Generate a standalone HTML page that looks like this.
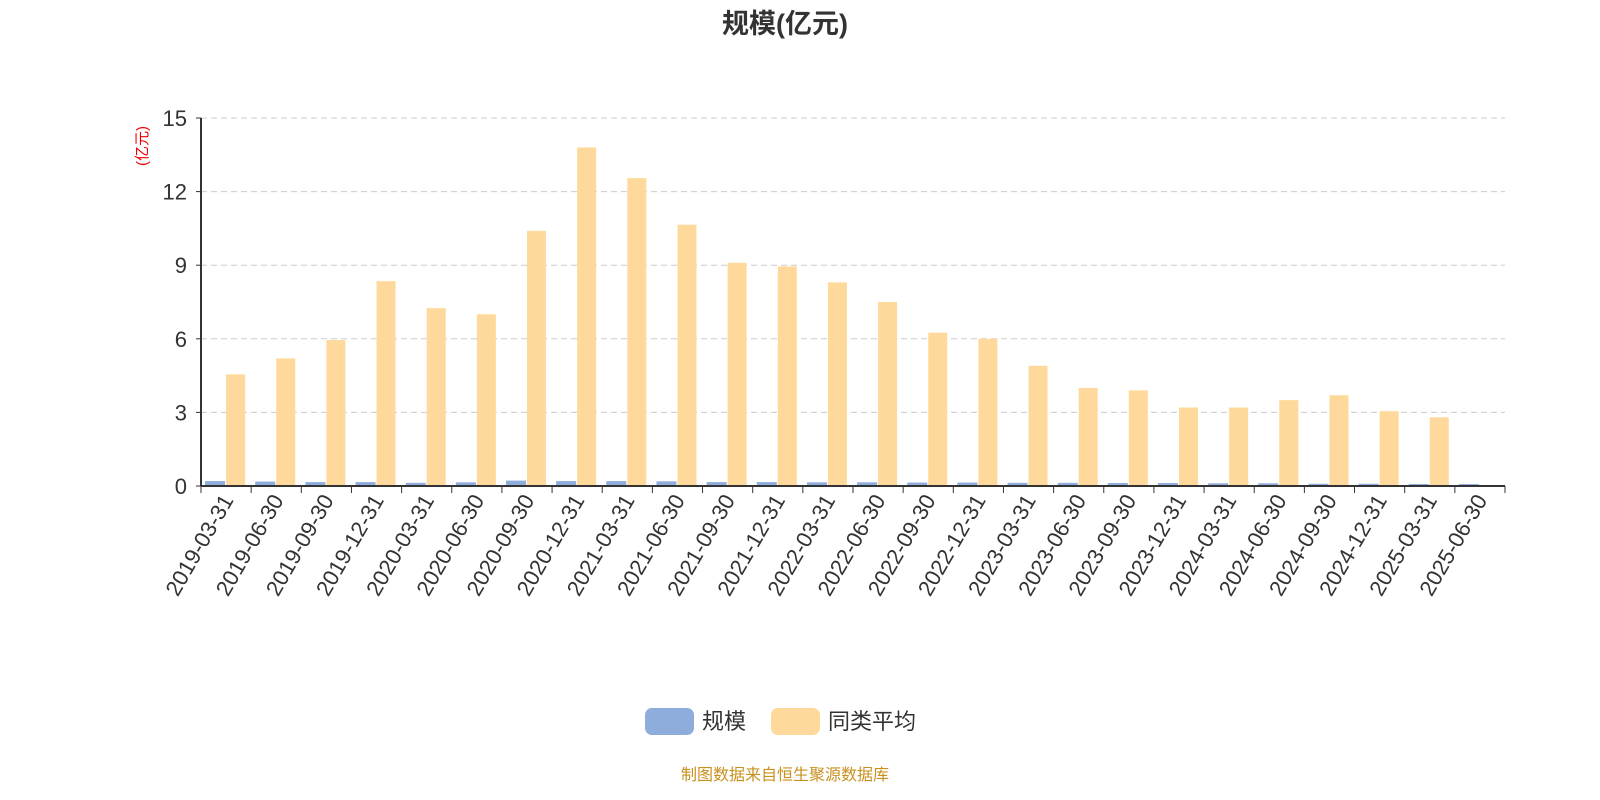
<!DOCTYPE html>
<html><head><meta charset="utf-8"><style>
html,body{margin:0;padding:0;background:#fff;overflow:hidden;width:1600px;height:800px;}
svg{display:block;}
text{font-family:"Liberation Sans","Noto Sans CJK SC",sans-serif;}
</style></head><body>
<svg id="c" width="1600" height="800" xmlns="http://www.w3.org/2000/svg">
<text x="785" y="33" text-anchor="middle" font-size="27" font-weight="bold" fill="#333">规模(亿元)</text>
<text transform="translate(147,146) rotate(-90)" text-anchor="middle" font-size="15" fill="#e00">(亿元)</text>
<g id="grid"></g><g id="bars"></g><g id="axes"></g>
<g>
<rect x="645" y="708" width="49" height="27" rx="7" fill="#8eaddc"/>
<text x="702" y="729" font-size="22" fill="#333">规模</text>
<rect x="771" y="708" width="49" height="27" rx="7" fill="#ffd99b"/>
<text x="828" y="729" font-size="22" fill="#333">同类平均</text>
</g>
<text x="785" y="780" text-anchor="middle" font-size="16" fill="#c8901e">制图数据来自恒生聚源数据库</text>
</svg>
<script>
const categories=["2019-03-31","2019-06-30","2019-09-30","2019-12-31","2020-03-31","2020-06-30","2020-09-30","2020-12-31","2021-03-31","2021-06-30","2021-09-30","2021-12-31","2022-03-31","2022-06-30","2022-09-30","2022-12-31","2023-03-31","2023-06-30","2023-09-30","2023-12-31","2024-03-31","2024-06-30","2024-09-30","2024-12-31","2025-03-31","2025-06-30"];
const scaleValues=[0.2,0.18,0.16,0.16,0.13,0.15,0.22,0.2,0.2,0.19,0.16,0.16,0.15,0.15,0.14,0.14,0.13,0.13,0.12,0.12,0.11,0.11,0.09,0.09,0.08,0.08];
const avgValues=[4.55,5.2,5.95,8.35,7.25,7.0,10.4,13.8,12.55,10.65,9.1,8.95,8.3,7.5,6.25,6.0,4.9,4.0,3.9,3.2,3.2,3.5,3.7,3.05,2.8,null];
const yTicks=[0,3,6,9,12,15];
const NS="http://www.w3.org/2000/svg";
const X0=201,X1=1505,Y0=486,Y1=118,YMAX=15;
const step=(X1-X0)/categories.length;
const xc=i=>X0+step*(i+0.5);
const y=v=>Y0-(v/YMAX)*(Y0-Y1);
function mk(t,a,p){const e=document.createElementNS(NS,t);for(const k in a)e.setAttribute(k,a[k]);p.appendChild(e);return e;}
const grid=document.getElementById('grid'),bars=document.getElementById('bars'),axes=document.getElementById('axes');
yTicks.forEach(v=>{
 if(v>0){const l=mk('line',{x1:X0,x2:X1,y1:y(v),y2:y(v),stroke:'#ccc','stroke-dasharray':'6,4'},grid);
 
 }
 const t=mk('text',{x:X0-14,y:y(v)+8,'text-anchor':'end','font-size':'22',fill:'#333'},axes);t.textContent=v;
 
 
 mk('line',{x1:X0-5,x2:X0,y1:y(v),y2:y(v),stroke:'#333'},axes);
});
categories.forEach((c,i)=>{
 const cx=xc(i);
 const b=mk('rect',{x:cx-21,y:y(scaleValues[i]),width:20,height:Y0-y(scaleValues[i]),fill:'#8eaddc'},bars);
 
 
 if(avgValues[i]!=null){const o=mk('rect',{x:cx,y:y(avgValues[i]),width:19,height:Y0-y(avgValues[i]),fill:'#ffd99b'},bars);
 
 }
 const t=mk('text',{transform:`translate(${cx+8},${Y0+14}) rotate(-60)`,'text-anchor':'end','font-size':'22',fill:'#333'},axes);t.textContent=c;
 
 
});
for(let i=0;i<=categories.length;i++)mk('line',{x1:X0+step*i,x2:X0+step*i,y1:Y0,y2:Y0+7,stroke:'#333'},axes);
const xa=mk('line',{x1:X0,x2:X1,y1:Y0,y2:Y0,stroke:'#333','stroke-width':2},axes);


const ya=mk('line',{x1:X0,x2:X0,y1:Y1,y2:Y0,stroke:'#333','stroke-width':2},axes);


</script>
</body></html>
